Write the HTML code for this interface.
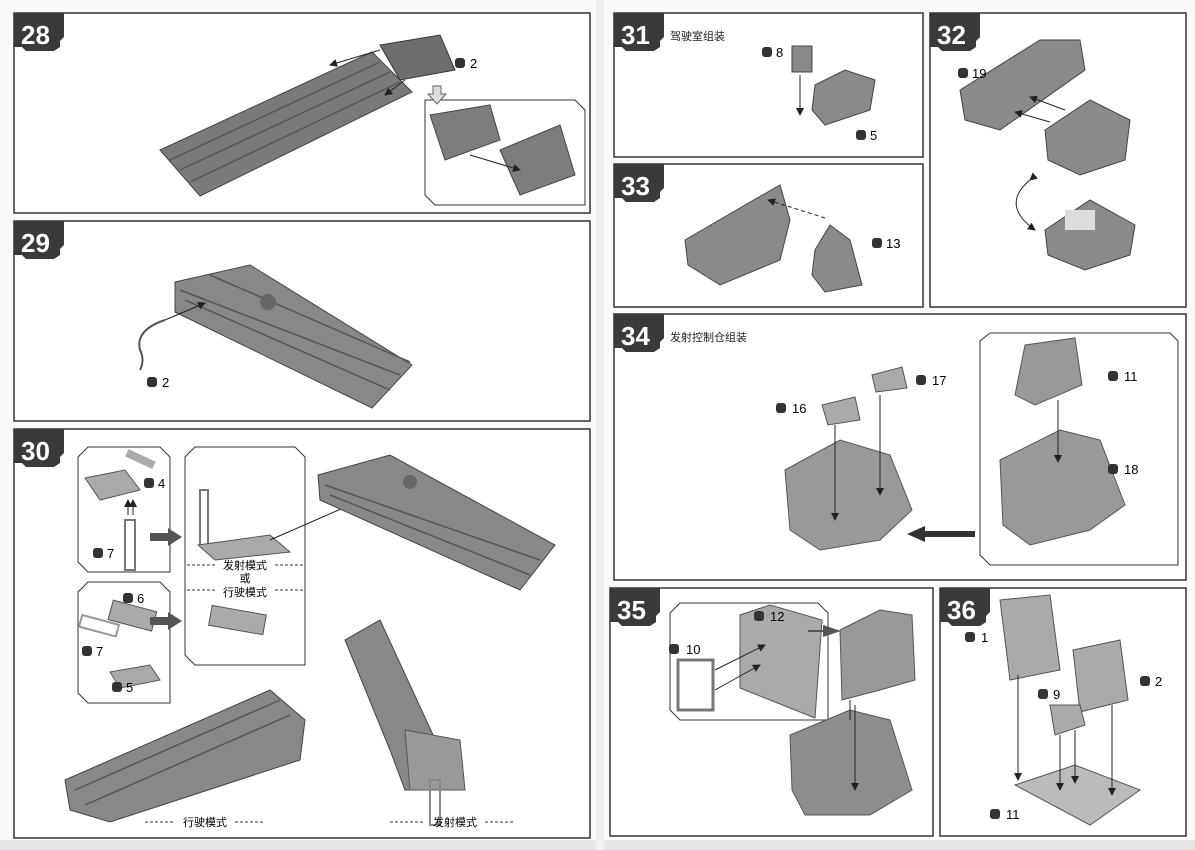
<!DOCTYPE html>
<html><head><meta charset="utf-8"><style>
html,body{margin:0;padding:0;background:#fafafa;}
svg{display:block}
text{font-family:"Liberation Sans","Noto Sans CJK SC",sans-serif;}
</style></head><body>
<svg width="1195" height="850" viewBox="0 0 1195 850" xmlns="http://www.w3.org/2000/svg">
<defs>
<marker id="ah" markerWidth="8" markerHeight="8" refX="7" refY="4" orient="auto"><path d="M0,0 L8,4 L0,8 z" fill="#222"/></marker>
<g id="b"><path d="M0,0 H50 V24 L46,28 V34 L40,38 H12 L8,34 H0 Z" fill="#3a3a3a"/></g>
</defs>
<rect width="1195" height="850" fill="#fafafa"/>
<rect x="0" y="840" width="1195" height="10" fill="#e6e6e6"/>
<rect x="596" y="0" width="8" height="850" fill="#efefef"/>
<!-- panels -->
<g fill="#fff" stroke="#333" stroke-width="1.5">
<rect x="14" y="13" width="576" height="200"/>
<rect x="14" y="221" width="576" height="200"/>
<rect x="14" y="429" width="576" height="409"/>
<rect x="614" y="13" width="309" height="144"/>
<rect x="930" y="13" width="256" height="294"/>
<rect x="614" y="164" width="309" height="143"/>
<rect x="614" y="314" width="572" height="266"/>
<rect x="610" y="588" width="323" height="248"/>
<rect x="940" y="588" width="246" height="248"/>
</g>
<!-- badges -->
<g>
<use href="#b" x="14" y="13"/><text x="21" y="44" font-size="26" fill="#fff" font-weight="bold">28</text>
<use href="#b" x="14" y="221"/><text x="21" y="252" font-size="26" fill="#fff" font-weight="bold">29</text>
<use href="#b" x="14" y="429"/><text x="21" y="460" font-size="26" fill="#fff" font-weight="bold">30</text>
<use href="#b" x="614" y="13"/><text x="621" y="44" font-size="26" fill="#fff" font-weight="bold">31</text>
<use href="#b" x="930" y="13"/><text x="937" y="44" font-size="26" fill="#fff" font-weight="bold">32</text>
<use href="#b" x="614" y="164"/><text x="621" y="195" font-size="26" fill="#fff" font-weight="bold">33</text>
<use href="#b" x="614" y="314"/><text x="621" y="345" font-size="26" fill="#fff" font-weight="bold">34</text>
<use href="#b" x="610" y="588"/><text x="617" y="619" font-size="26" fill="#fff" font-weight="bold">35</text>
<use href="#b" x="940" y="588"/><text x="947" y="619" font-size="26" fill="#fff" font-weight="bold">36</text>
</g>
<text x="670" y="40" font-size="11" fill="#222">驾驶室组装</text>
<text x="670" y="341" font-size="11" fill="#222">发射控制仓组装</text>

<!-- 28 -->
<polygon points="160,150 372,52 412,92 200,196" fill="#7a7a7a" stroke="#444"/>
<g stroke="#555" stroke-width="1.5"><line x1="170" y1="160" x2="380" y2="62"/><line x1="180" y1="170" x2="390" y2="72"/><line x1="190" y1="182" x2="400" y2="82"/></g>
<polygon points="380,45 440,35 455,70 400,80" fill="#6e6e6e" stroke="#333"/>
<line x1="380" y1="50" x2="330" y2="65" stroke="#222" marker-end="url(#ah)"/>
<line x1="405" y1="80" x2="385" y2="95" stroke="#222" marker-end="url(#ah)"/>
<rect x="455" y="58" width="10" height="10" rx="3" fill="#333"/><text x="470" y="68" font-size="13">2</text>
<path d="M425,100 H575 L585,110 V205 H435 L425,195 Z" fill="#fff" stroke="#333"/>
<polygon points="430,115 490,105 500,140 445,160" fill="#7d7d7d" stroke="#444"/>
<polygon points="500,150 560,125 575,175 520,195" fill="#7d7d7d" stroke="#444"/>
<line x1="470" y1="155" x2="520" y2="170" stroke="#222" marker-end="url(#ah)"/>
<path d="M433,86 h8 v8 h5 l-9,10 l-9,-10 h5 z" fill="#ddd" stroke="#666"/>

<!-- 29 -->
<polygon points="175,282 250,265 412,365 372,408 175,312" fill="#888" stroke="#444"/>
<g stroke="#555" stroke-width="1.5"><line x1="180" y1="290" x2="400" y2="375"/><line x1="185" y1="300" x2="390" y2="390"/><line x1="210" y1="275" x2="410" y2="362"/></g>
<circle cx="268" cy="302" r="8" fill="#666"/>
<path d="M165,320 q-30,10 -25,30 q5,10 0,20" fill="none" stroke="#555" stroke-width="2"/>
<line x1="165" y1="320" x2="205" y2="303" stroke="#222" marker-end="url(#ah)"/>
<rect x="147" y="377" width="10" height="10" rx="3" fill="#333"/><text x="162" y="387" font-size="13">2</text>

<!-- 30 -->
<path d="M88,447 H160 L170,457 V572 H88 L78,562 V457 Z" fill="#fff" stroke="#333"/>
<path d="M88,582 H160 L170,592 V703 H88 L78,693 V592 Z" fill="#fff" stroke="#333"/>
<path d="M195,447 H295 L305,457 V665 H195 L185,655 V457 Z" fill="#fff" stroke="#333"/>
<polygon points="85,478 125,470 140,490 100,500" fill="#aaa" stroke="#555"/>
<rect x="125" y="455" width="30" height="8" fill="#aaa" transform="rotate(25 140 460)"/>
<rect x="144" y="478" width="10" height="10" rx="3" fill="#333"/><text x="158" y="488" font-size="13">4</text>
<rect x="125" y="520" width="10" height="50" fill="none" stroke="#777" stroke-width="2"/>
<line x1="128" y1="515" x2="128" y2="500" stroke="#222" marker-end="url(#ah)"/>
<line x1="133" y1="515" x2="133" y2="500" stroke="#222" marker-end="url(#ah)"/>
<rect x="93" y="548" width="10" height="10" rx="3" fill="#333"/><text x="107" y="558" font-size="13">7</text>
<rect x="110" y="605" width="45" height="20" fill="#aaa" stroke="#555" transform="rotate(15 130 615)"/>
<rect x="123" y="593" width="10" height="10" rx="3" fill="#333"/><text x="137" y="603" font-size="13">6</text>
<rect x="80" y="620" width="38" height="12" fill="none" stroke="#999" stroke-width="2" transform="rotate(15 100 626)"/>
<rect x="82" y="646" width="10" height="10" rx="3" fill="#333"/><text x="96" y="656" font-size="13">7</text>
<polygon points="110,672 150,665 160,680 120,688" fill="#aaa" stroke="#555"/>
<rect x="112" y="682" width="10" height="10" rx="3" fill="#333"/><text x="126" y="692" font-size="13">5</text>
<path d="M150,533 h18 v-5 l14,9 l-14,9 v-5 h-18 z" fill="#555"/>
<path d="M150,617 h18 v-5 l14,9 l-14,9 v-5 h-18 z" fill="#555"/>
<rect x="200" y="490" width="8" height="55" fill="none" stroke="#777" stroke-width="2"/>
<polygon points="198,545 270,535 290,552 215,560" fill="#aaa" stroke="#555"/>
<rect x="210" y="610" width="55" height="20" fill="#aaa" stroke="#555" transform="rotate(10 237 620)"/>
<g stroke="#333" stroke-dasharray="3,2"><line x1="187" y1="565" x2="215" y2="565"/><line x1="275" y1="565" x2="303" y2="565"/><line x1="187" y1="590" x2="215" y2="590"/><line x1="275" y1="590" x2="303" y2="590"/></g>
<text x="245" y="569" font-size="11" text-anchor="middle">发射模式</text>
<text x="245" y="582" font-size="11" text-anchor="middle">或</text>
<text x="245" y="596" font-size="11" text-anchor="middle">行驶模式</text>
<line x1="270" y1="540" x2="350" y2="505" stroke="#222"/>
<polygon points="318,475 390,455 555,545 520,590 320,500" fill="#888" stroke="#444"/>
<g stroke="#555" stroke-width="1.5"><line x1="325" y1="485" x2="540" y2="560"/><line x1="330" y1="495" x2="530" y2="575"/></g>
<circle cx="410" cy="482" r="7" fill="#666"/>
<polygon points="65,780 270,690 305,720 300,760 110,822 70,810" fill="#888" stroke="#444"/>
<g stroke="#555" stroke-width="1.5"><line x1="75" y1="790" x2="280" y2="700"/><line x1="85" y1="805" x2="290" y2="715"/></g>
<polygon points="345,640 380,620 440,750 430,790 405,790 390,750" fill="#888" stroke="#444"/>
<polygon points="405,730 460,740 465,790 410,790" fill="#999" stroke="#555"/>
<rect x="430" y="780" width="10" height="45" fill="none" stroke="#888" stroke-width="2"/>
<g stroke="#333" stroke-dasharray="3,2"><line x1="145" y1="822" x2="175" y2="822"/><line x1="235" y1="822" x2="265" y2="822"/><line x1="390" y1="822" x2="425" y2="822"/><line x1="485" y1="822" x2="515" y2="822"/></g>
<text x="205" y="826" font-size="11" text-anchor="middle">行驶模式</text>
<text x="455" y="826" font-size="11" text-anchor="middle">发射模式</text>

<!-- 31 -->
<rect x="792" y="46" width="20" height="26" fill="#888" stroke="#444"/>
<polygon points="815,85 845,70 875,80 870,110 825,125 812,110" fill="#8a8a8a" stroke="#444"/>
<line x1="800" y1="75" x2="800" y2="115" stroke="#222" marker-end="url(#ah)"/>
<rect x="762" y="47" width="10" height="10" rx="3" fill="#333"/><text x="776" y="57" font-size="13">8</text>
<rect x="856" y="130" width="10" height="10" rx="3" fill="#333"/><text x="870" y="140" font-size="13">5</text>
<!-- 32 -->
<polygon points="960,90 1040,40 1080,40 1085,70 1000,130 965,120" fill="#8a8a8a" stroke="#444"/>
<polygon points="1045,130 1090,100 1130,120 1125,160 1080,175 1048,160" fill="#8a8a8a" stroke="#444"/>
<polygon points="1045,230 1090,200 1135,225 1130,255 1085,270 1048,255" fill="#8a8a8a" stroke="#444"/>
<rect x="1065" y="210" width="30" height="20" fill="#ddd"/>
<line x1="1065" y1="110" x2="1030" y2="97" stroke="#222" marker-end="url(#ah)"/>
<line x1="1050" y1="122" x2="1015" y2="112" stroke="#222" marker-end="url(#ah)"/>
<path d="M1030,180 Q1000,205 1035,230" fill="none" stroke="#222" marker-end="url(#ah)" marker-start="url(#ah)"/>
<rect x="958" y="68" width="10" height="10" rx="3" fill="#333"/><text x="972" y="78" font-size="13">19</text>
<!-- 33 -->
<polygon points="685,240 745,205 780,185 790,220 780,260 720,285 688,265" fill="#8a8a8a" stroke="#444"/>
<polygon points="815,250 830,225 850,240 862,285 825,292 812,275" fill="#8a8a8a" stroke="#444"/>
<line x1="825" y1="218" x2="768" y2="200" stroke="#222" stroke-dasharray="4,3" marker-end="url(#ah)"/>
<rect x="872" y="238" width="10" height="10" rx="3" fill="#333"/><text x="886" y="248" font-size="13">13</text>
<!-- 34 -->
<polygon points="785,470 840,440 890,455 912,510 880,540 820,550 790,530" fill="#999" stroke="#555"/>
<polygon points="822,405 855,397 860,420 828,425" fill="#aaa" stroke="#555"/>
<polygon points="872,375 902,367 907,388 876,392" fill="#aaa" stroke="#555"/>
<line x1="835" y1="425" x2="835" y2="520" stroke="#222" marker-end="url(#ah)"/>
<line x1="880" y1="395" x2="880" y2="495" stroke="#222" marker-end="url(#ah)"/>
<rect x="776" y="403" width="10" height="10" rx="3" fill="#333"/><text x="792" y="413" font-size="13">16</text>
<rect x="916" y="375" width="10" height="10" rx="3" fill="#333"/><text x="932" y="385" font-size="13">17</text>
<path d="M990,333 H1170 L1178,341 V565 H990 L980,555 V341 Z" fill="#fff" stroke="#333"/>
<polygon points="1000,460 1060,430 1100,440 1125,505 1090,530 1030,545 1003,525" fill="#999" stroke="#555"/>
<polygon points="1025,345 1075,338 1082,385 1035,405 1015,395" fill="#999" stroke="#555"/>
<line x1="1058" y1="400" x2="1058" y2="462" stroke="#222" marker-end="url(#ah)"/>
<rect x="1108" y="371" width="10" height="10" rx="3" fill="#333"/><text x="1124" y="381" font-size="13">11</text>
<rect x="1108" y="464" width="10" height="10" rx="3" fill="#333"/><text x="1124" y="474" font-size="13">18</text>
<path d="M975,531 H925 v-5 l-18,8 l18,8 v-5 h50 z" fill="#333"/>
<!-- 35 -->
<path d="M680,603 H818 L828,613 V720 H680 L670,710 V613 Z" fill="#fff" stroke="#333"/>
<polygon points="740,615 770,605 822,620 815,718 740,688" fill="#aaa" stroke="#555"/>
<rect x="678" y="660" width="35" height="50" fill="none" stroke="#777" stroke-width="3"/>
<line x1="715" y1="670" x2="765" y2="645" stroke="#222" marker-end="url(#ah)"/>
<line x1="715" y1="690" x2="760" y2="665" stroke="#222" marker-end="url(#ah)"/>
<rect x="669" y="644" width="10" height="10" rx="3" fill="#333"/><text x="686" y="654" font-size="13">10</text>
<rect x="754" y="611" width="10" height="10" rx="3" fill="#333"/><text x="770" y="621" font-size="13">12</text>
<path d="M808,630 h15 v-5 l18,6 l-18,6 v-5 h-15 z" fill="#555"/>
<polygon points="840,630 880,610 912,615 915,680 880,690 842,700" fill="#999" stroke="#555"/>
<polygon points="790,735 850,710 890,720 912,790 870,815 805,815 792,790" fill="#8d8d8d" stroke="#555"/>
<line x1="850" y1="700" x2="850" y2="720" stroke="#222"/>
<line x1="855" y1="705" x2="855" y2="790" stroke="#222" marker-end="url(#ah)"/>
<!-- 36 -->
<polygon points="1000,600 1050,595 1060,670 1010,680" fill="#aaa" stroke="#555"/>
<polygon points="1073,650 1120,640 1128,700 1080,712" fill="#aaa" stroke="#555"/>
<polygon points="1050,705 1080,705 1085,725 1055,735" fill="#aaa" stroke="#555"/>
<polygon points="1015,785 1075,765 1140,790 1090,825" fill="#bbb" stroke="#555"/>
<g stroke="#222"><line x1="1018" y1="675" x2="1018" y2="780" marker-end="url(#ah)"/><line x1="1060" y1="735" x2="1060" y2="790" marker-end="url(#ah)"/><line x1="1075" y1="730" x2="1075" y2="783" marker-end="url(#ah)"/><line x1="1112" y1="705" x2="1112" y2="795" marker-end="url(#ah)"/></g>
<rect x="965" y="632" width="10" height="10" rx="3" fill="#333"/><text x="981" y="642" font-size="13">1</text>
<rect x="1140" y="676" width="10" height="10" rx="3" fill="#333"/><text x="1155" y="686" font-size="13">2</text>
<rect x="1038" y="689" width="10" height="10" rx="3" fill="#333"/><text x="1053" y="699" font-size="13">9</text>
<rect x="990" y="809" width="10" height="10" rx="3" fill="#333"/><text x="1006" y="819" font-size="13">11</text>
</svg>
</body></html>
